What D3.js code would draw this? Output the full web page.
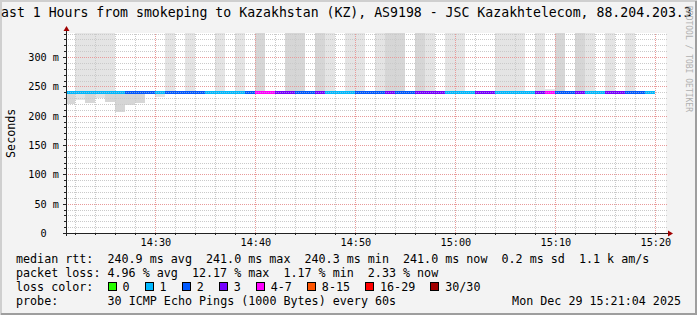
<!DOCTYPE html>
<html>
<head>
<meta charset="utf-8">
<script src="https://cdn.jsdelivr.net/npm/d3@7"></script>
<style>
  body { margin: 0; background: #f3f3f3; }
  svg { display: block; font-family: 'DejaVu Sans Mono', monospace; }
  .grid line { shape-rendering: crispEdges; stroke-dasharray: 1,1; }
  .grid path { display: none; }
  .axis path { display: none; }
  .axis line { stroke: #222; shape-rendering: crispEdges; }
  .axis text { fill: #000; font-family: 'DejaVu Sans Mono', monospace; font-size: 10.2px; }
  .legend { font-size: 11.7px; fill: #000; }
</style>
</head>
<body>
<div id="chart"></div>
<script>
// --- data ---
const title = 'ast 1 Hours from smokeping to Kazakhstan (KZ), AS9198 - JSC Kazakhtelecom, 88.204.203.3'
const watermark = 'RRDTOOL / TOBI OETIKER'

// one value per minute, first minute 14:21
const medianRtt = [
  240.9, 241.0, 241.0, 240.9, 241.0, 240.9, 241.0, 241.0, 240.9, 241.0,
  240.9, 241.0, 240.9, 241.0, 241.0, 240.9, 241.0, 240.9, 241.0, 240.8,
  240.9, 241.0, 240.9, 241.0, 241.0, 240.9, 241.0, 240.9, 240.9, 241.0,
  240.9, 241.0, 240.8, 240.9, 241.0, 240.9, 241.0, 240.9, 241.0, 240.9,
  240.3, 240.9, 241.0, 240.9, 241.0, 240.9, 241.0, 240.9, 240.9, 241.0,
  240.9, 241.0, 240.9, 241.0, 240.9, 241.0, 240.9, 240.9, 241.0
]
// lost pings out of 30
const lossCount = [
  1, 1, 1, 1, 1, 1, 2, 2, 2, 1,
  2, 2, 2, 2, 1, 1, 1, 1, 2, 5,
  5, 3, 3, 2, 2, 3, 1, 1, 1, 2,
  2, 2, 3, 2, 2, 3, 3, 3, 1, 1,
  1, 3, 3, 1, 1, 1, 1, 3, 4, 2,
  2, 3, 1, 1, 3, 3, 2, 2, 1
]
// highest ping (ms), null when nothing sits above the median
const smokeHigh = [
  null, 512, 498, 530, 467, null, null, null, null, null,
  455, null, 502, null, null, 489, null, 476, null, 521,
  null, null, 538, 544, null, 497, 463, null, 481, 470,
  null, 459, 526, 533, null, 509, 472, null, 488, 466,
  null, null, null, 493, 478, 461, null, 484, 246, 517,
  null, 506, 474, null, 469, null, 491, null, null
]
const upperPings = [
  0, 1, 1, 1, 1, 0, 0, 0, 0, 0,
  1, 0, 1, 0, 0, 1, 0, 1, 0, 2,
  0, 0, 2, 2, 0, 2, 1, 0, 1, 1,
  0, 1, 2, 2, 0, 2, 1, 0, 1, 1,
  0, 0, 0, 1, 1, 1, 0, 1, 1, 2,
  0, 2, 1, 0, 1, 0, 1, 0, 0
]
// lowest ping (ms), null when nothing sits below the median
const smokeLow = [
  220, 227, 222, 231, 224, 207, 219, 222, null, 232,
  null, null, null, null, null, null, null, null, null, null,
  null, null, null, null, null, null, null, null, null, null,
  null, null, null, null, null, null, null, null, null, null,
  null, null, null, null, null, null, null, null, null, null,
  null, null, null, null, null, null, null, null, null
]
const lowerPings = [
  2, 1, 2, 1, 2, 2, 2, 2, 0, 1,
  0, 0, 0, 0, 0, 0, 0, 0, 0, 0,
  0, 0, 0, 0, 0, 0, 0, 0, 0, 0,
  0, 0, 0, 0, 0, 0, 0, 0, 0, 0,
  0, 0, 0, 0, 0, 0, 0, 0, 0, 0,
  0, 0, 0, 0, 0, 0, 0, 0, 0
]

const lossBins = ['0', '1', '2', '3', '4-7', '8-15', '16-29', '30/30']
const lossThresholds = [1, 2, 3, 4, 8, 16, 30]
const lossColors = ['#26ff00', '#00b8ff', '#0059ff', '#7600ff', '#ff00ff', '#ff5500', '#ff0000', '#a10000']

const yTicks = [0, 50, 100, 150, 200, 250, 300]
const xTickLabels = ['14:30', '14:40', '14:50', '15:00', '15:10', '15:20']

const rttStats = ['240.9 ms avg', '241.0 ms max', '240.3 ms min', '241.0 ms now', '0.2 ms sd', '1.1 k am/s']
const lossStats = ['4.96 % avg', '12.17 % max', '1.17 % min', '2.33 % now']
const probeText = '30 ICMP Echo Pings (1000 Bytes) every 60s'
const stampText = 'Mon Dec 29 15:21:04 2025'

// --- dimensions ---
const width = 697
const height = 315
const plot = { left: 66, top: 33, width: 600, height: 200 }
const charW = 11.7 * 0.602

// keep runs of spaces in svg text
const keepSpaces = s => s.replace(/ /g, '\u00a0')

const svg = d3.select('#chart')
  .append('svg')
  .attr('width', width)
  .attr('height', height)

// canvas and 3d border
svg.append('rect').attr('width', width).attr('height', height).attr('fill', '#f3f3f3')
svg.append('path').attr('d', `M1,${height}V1H${width}`).attr('fill', 'none').attr('stroke', '#cfcfcf').attr('stroke-width', 2)
svg.append('path').attr('d', `M1,${height - 1}H${width - 1}V1`).attr('fill', 'none').attr('stroke', '#9e9e9e').attr('stroke-width', 2)

// scales
const parseTime = d3.timeParse('%Y-%m-%d %H:%M:%S')
const firstMinute = parseTime('2025-12-29 14:21:00')
const xScale = d3.scaleTime()
  .domain([parseTime('2025-12-29 14:21:04'), parseTime('2025-12-29 15:21:04')])
  .range([plot.left, plot.left + plot.width])
const yScale = d3.scaleLinear()
  .domain([0, 341])
  .range([plot.top + plot.height, plot.top])
const lossColor = n => lossColors[d3.bisectRight(lossThresholds, n)]
const smokeShades = ['none', '#e4e4e4', '#d6d6d6']

const rows = medianRtt.map((m, i) => ({
  t0: d3.timeMinute.offset(firstMinute, i),
  t1: d3.timeMinute.offset(firstMinute, i + 1),
  median: m,
  loss: lossCount[i],
  high: smokeHigh[i],
  up: upperPings[i],
  low: smokeLow[i],
  down: lowerPings[i]
}))

// white canvas
svg.append('rect')
  .attr('x', plot.left).attr('y', plot.top)
  .attr('width', plot.width).attr('height', plot.height)
  .attr('fill', '#fff')

svg.append('clipPath').attr('id', 'plot-clip')
  .append('rect')
  .attr('x', plot.left).attr('y', plot.top)
  .attr('width', plot.width).attr('height', plot.height)

const g = svg.append('g').attr('clip-path', 'url(#plot-clip)')

// smoke above and below the median
g.selectAll('rect.smoke-up')
  .data(rows.filter(d => d.high != null))
  .join('rect')
  .attr('class', 'smoke-up')
  .attr('x', d => xScale(d.t0))
  .attr('width', d => xScale(d.t1) - xScale(d.t0))
  .attr('y', d => yScale(d.high))
  .attr('height', d => yScale(d.median) - yScale(d.high))
  .attr('fill', d => smokeShades[d.up])
  .attr('shape-rendering', 'crispEdges')

g.selectAll('rect.smoke-down')
  .data(rows.filter(d => d.low != null))
  .join('rect')
  .attr('class', 'smoke-down')
  .attr('x', d => xScale(d.t0))
  .attr('width', d => xScale(d.t1) - xScale(d.t0))
  .attr('y', d => yScale(d.median))
  .attr('height', d => yScale(d.low) - yScale(d.median))
  .attr('fill', d => smokeShades[d.down])
  .attr('shape-rendering', 'crispEdges')

// grid, minor first then major
const minorX = d3.timeMinute.every(2).range(xScale.domain()[0], xScale.domain()[1])
const majorX = d3.timeMinute.every(10).range(xScale.domain()[0], xScale.domain()[1])
const minorY = d3.range(10, 341, 10).filter(v => v % 50 !== 0)

svg.append('g')
  .attr('class', 'grid')
  .attr('transform', `translate(0, ${plot.top + plot.height})`)
  .call(d3.axisBottom(xScale).tickValues(minorX).tickSize(-plot.height).tickFormat(''))
  .selectAll('line').attr('stroke', '#cacaca')

svg.append('g')
  .attr('class', 'grid')
  .attr('transform', `translate(${plot.left}, 0)`)
  .call(d3.axisLeft(yScale).tickValues(minorY).tickSize(-plot.width - 2).tickFormat(''))
  .selectAll('line').attr('stroke', '#cacaca')

svg.append('g')
  .attr('class', 'grid')
  .attr('transform', `translate(0, ${plot.top + plot.height})`)
  .call(d3.axisBottom(xScale).tickValues(majorX).tickSize(-plot.height).tickFormat(''))
  .selectAll('line').attr('stroke', '#e89a9a')

svg.append('g')
  .attr('class', 'grid')
  .attr('transform', `translate(${plot.left}, 0)`)
  .call(d3.axisLeft(yScale).tickValues(yTicks.filter(v => v > 0)).tickSize(-plot.width - 2).tickFormat(''))
  .selectAll('line').attr('stroke', '#e89a9a')

// median rtt, coloured by loss
const lineG = svg.append('g').attr('clip-path', 'url(#plot-clip)')
lineG.selectAll('line.median')
  .data(rows)
  .join('line')
  .attr('class', 'median')
  .attr('x1', d => xScale(d.t0))
  .attr('x2', d => xScale(d.t1))
  .attr('y1', d => Math.round(yScale(d.median)) + 0.5)
  .attr('y2', d => Math.round(yScale(d.median)) + 0.5)
  .attr('stroke', d => lossColor(d.loss))
  .attr('stroke-width', 3)
  .attr('shape-rendering', 'crispEdges')

// dotted minor line that runs across the median
lineG.append('line')
  .attr('x1', plot.left).attr('x2', plot.left + plot.width)
  .attr('y1', Math.round(yScale(240)) + 0.5).attr('y2', Math.round(yScale(240)) + 0.5)
  .attr('stroke', '#cacaca')
  .attr('stroke-opacity', 0.6)
  .attr('stroke-dasharray', '1,1')

// axes
const xAxis = svg.append('g')
  .attr('class', 'axis')
  .attr('transform', `translate(0, ${plot.top + plot.height})`)
  .call(d3.axisBottom(xScale).tickValues(majorX).tickSize(2).tickPadding(4)
    .tickFormat((d, i) => xTickLabels[i]))
xAxis.selectAll('text').attr('dy', '0.71em')

svg.append('g')
  .attr('class', 'axis')
  .attr('transform', `translate(0, ${plot.top + plot.height})`)
  .call(d3.axisBottom(xScale).tickValues(minorX).tickSize(2).tickFormat(''))

svg.append('g')
  .attr('class', 'axis')
  .attr('transform', `translate(${plot.left}, 0)`)
  .call(d3.axisLeft(yScale).tickValues(yTicks).tickSize(3).tickPadding(4)
    .tickFormat(d => d === 0 ? '0\u00a0\u00a0' : d + ' m'))
  .selectAll('text').attr('dy', '0.35em')

svg.append('g')
  .attr('class', 'axis')
  .attr('transform', `translate(${plot.left}, 0)`)
  .call(d3.axisLeft(yScale).tickValues(minorY).tickSize(2).tickFormat(''))

// axis lines with arrows
const x0 = plot.left
const yBase = plot.top + plot.height
svg.append('line')
  .attr('x1', x0 - 3).attr('x2', plot.left + plot.width + 3)
  .attr('y1', yBase + 0.5).attr('y2', yBase + 0.5)
  .attr('stroke', '#222')
svg.append('line')
  .attr('x1', x0 + 0.5).attr('x2', x0 + 0.5)
  .attr('y1', yBase + 3).attr('y2', plot.top - 3)
  .attr('stroke', '#222')
svg.append('path')
  .attr('d', `M${plot.left + plot.width + 2},${yBase - 2.5}L${plot.left + plot.width + 7},${yBase + 0.5}L${plot.left + plot.width + 2},${yBase + 3.5}Z`)
  .attr('fill', '#a00000')
svg.append('path')
  .attr('d', `M${x0 - 2.5},${plot.top - 2}L${x0 + 0.5},${plot.top - 7}L${x0 + 3.5},${plot.top - 2}Z`)
  .attr('fill', '#a00000')

// titles
svg.append('text')
  .attr('x', 1).attr('y', 17)
  .attr('font-size', '13.2px')
  .text(keepSpaces(title))

svg.append('text')
  .attr('transform', `translate(11, ${yScale(170)}) rotate(-90)`)
  .attr('text-anchor', 'middle')
  .attr('dy', '0.35em')
  .attr('font-size', '11.7px')
  .text('Seconds')

svg.append('text')
  .attr('transform', 'translate(686, 6) rotate(90)')
  .attr('font-size', '8px')
  .attr('fill', '#b0b0b0')
  .text(watermark)

// legend
const legend = svg.append('g').attr('class', 'legend')
const rowY = [263, 277, 291, 305]
legend.append('text').attr('x', 16).attr('y', rowY[0]).text(keepSpaces('median rtt:  ' + rttStats.join('  ')))
legend.append('text').attr('x', 16).attr('y', rowY[1]).text(keepSpaces('packet loss: ' + lossStats.join('  ')))
legend.append('text').attr('x', 16).attr('y', rowY[2]).text('loss color:')
legend.append('text').attr('x', 16).attr('y', rowY[3]).text('probe:')
legend.append('text').attr('x', 16 + 13 * charW).attr('y', rowY[3]).text(keepSpaces(probeText))
legend.append('text').attr('x', 681).attr('y', rowY[3]).attr('text-anchor', 'end').text(keepSpaces(stampText))

let bx = 16 + 13 * charW
lossBins.forEach((label, i) => {
  legend.append('rect')
    .attr('x', Math.round(bx) + 0.5).attr('y', rowY[2] - 8.5)
    .attr('width', 8).attr('height', 8)
    .attr('fill', lossColors[i])
    .attr('stroke', '#000')
  legend.append('text').attr('x', bx + 15).attr('y', rowY[2]).text(label)
  bx = bx + 15 + label.length * charW + 15
})
</script>
</body>
</html>
